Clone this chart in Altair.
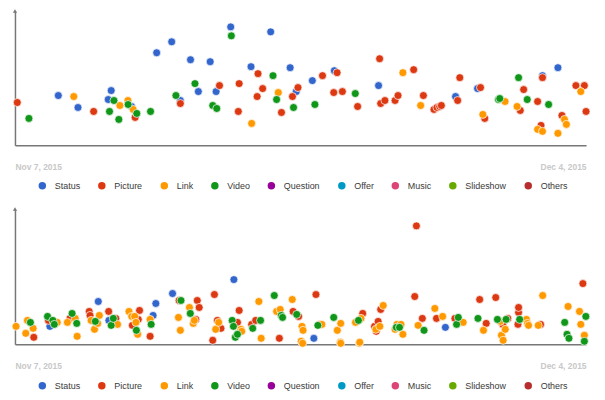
import altair as alt
import pandas as pd

# ---- categories / colours -------------------------------------------------
TYPES = ["Status", "Picture", "Link", "Video", "Question", "Offer", "Music", "Slideshow", "Others"]
COLORS = ["#3366cc", "#dc3912", "#ff9900", "#109618", "#990099", "#0099c6", "#dd4477", "#66aa00", "#b82e2e"]

START = "2015-11-07"
END = "2015-12-04"

# ---- upper chart: (days after Nov 7, value) --------------------------------
TOP_STATUS = [(2.05, 50), (2.98, 38), (4.41, 46), (4.55, 55), (5.51, 39), (6.70, 93), (7.41, 104), (7.82, 45),
              (8.30, 86), (8.67, 54), (9.23, 84), (9.51, 54), (10.20, 119), (11.16, 79), (12.09, 114), (13.01, 78),
              (13.30, 54), (14.06, 65), (15.10, 75), (17.19, 60), (20.83, 49), (21.87, 57), (24.94, 70), (25.67, 78)]
TOP_PICTURE = [(0.11, 43), (3.72, 34), (5.68, 28), (7.82, 42), (9.67, 60), (10.56, 34), (10.60, 62), (11.45, 49),
               (11.49, 72), (11.71, 57), (12.60, 33), (13.12, 49), (13.38, 58), (14.54, 70), (15.07, 53), (15.23, 73),
               (15.48, 54), (16.20, 39), (17.24, 87), (17.29, 42), (17.49, 45), (17.97, 45), (18.11, 50), (18.85, 76),
               (19.31, 50), (19.81, 36), (19.95, 38), (20.08, 39), (20.16, 40), (20.93, 45), (21.03, 68), (22.01, 58),
               (22.21, 27), (23.89, 35), (24.05, 56), (24.71, 44), (24.87, 20), (24.94, 68), (25.86, 30), (26.52, 60),
               (26.92, 60), (27.00, 34)]
TOP_LINK = [(2.78, 49), (4.96, 40), (5.34, 45), (5.59, 36), (11.19, 22), (12.45, 53), (18.34, 73), (19.18, 40),
            (22.12, 31), (23.17, 44), (23.74, 39), (24.71, 16), (24.94, 14), (25.67, 12), (25.98, 26), (26.07, 21),
            (26.75, 54)]
TOP_VIDEO = [(0.66, 27), (4.47, 34), (4.68, 45), (4.91, 26), (5.35, 41), (5.76, 32), (6.41, 34), (7.61, 50),
             (8.51, 62), (9.35, 40), (9.54, 37), (10.23, 110), (12.20, 70), (12.37, 46), (13.17, 38), (14.18, 41),
             (16.09, 52), (22.86, 46), (22.92, 47), (23.81, 68), (24.22, 46), (25.23, 41)]

# ---- lower chart ------------------------------------------------------------
BOT_STATUS = [(1.65, 18), (3.94, 43), (4.44, 24), (6.53, 29), (6.66, 41), (7.45, 51), (10.35, 65), (14.13, 6),
              (20.35, 17)]
BOT_PICTURE = [(0.89, 7), (1.58, 24), (2.60, 26), (3.51, 33), (3.55, 29), (4.43, 33), (4.77, 26), (5.55, 19),
               (5.83, 25), (5.89, 34), (6.39, 8), (7.76, 44), (8.55, 25), (8.62, 44), (8.71, 37), (9.35, 4),
               (9.43, 50), (9.57, 24), (9.74, 16), (10.52, 22), (10.60, 34), (11.19, 20), (11.38, 24), (12.50, 6),
               (13.15, 33), (13.41, 28), (14.23, 50), (14.41, 20), (16.44, 31), (17.00, 18), (17.08, 13), (17.17, 23),
               (17.29, 35), (18.90, 48), (18.98, 119), (19.26, 26), (19.93, 26), (20.80, 26), (21.97, 45), (22.28, 21),
               (22.73, 47), (23.06, 20), (23.30, 26), (23.78, 20), (23.81, 32), (23.81, 37), (24.85, 20), (26.85, 61)]
BOT_LINK = [(0.05, 18), (0.51, 11), (0.59, 24), (0.86, 16), (2.00, 22), (2.48, 22), (2.85, 26), (2.94, 8),
            (3.60, 24), (3.76, 15), (3.91, 21), (3.99, 29), (4.85, 20), (5.39, 33), (5.52, 28), (5.66, 28),
            (5.72, 22), (5.80, 10), (6.39, 25), (7.73, 27), (7.82, 14), (8.25, 37), (8.43, 21), (8.48, 24),
            (9.49, 15), (9.63, 22), (10.68, 15), (10.72, 13), (11.53, 43), (11.64, 6), (12.37, 33), (12.54, 35),
            (13.11, 45), (13.53, 3), (13.57, 18), (13.60, 1), (13.62, 14), (14.51, 20), (15.24, 14), (15.38, 2),
            (15.40, 1), (15.40, 21), (16.10, 22), (16.28, 1), (16.30, 2), (16.36, 26), (17.06, 15), (17.25, 18),
            (17.41, 39), (17.97, 15), (18.06, 20), (18.25, 20), (18.34, 10), (19.06, 19), (19.85, 36), (20.22, 28),
            (21.19, 22), (22.15, 14), (22.95, 23), (23.00, 9), (23.08, 4), (23.18, 15), (24.18, 25), (24.23, 21),
            (24.28, 19), (24.74, 19), (24.95, 49), (26.15, 38), (26.69, 33), (26.75, 20), (26.92, 9)]
BOT_VIDEO = [(0.73, 22), (1.54, 28), (1.79, 24), (1.86, 20), (2.70, 31), (2.92, 21), (3.80, 23), (4.55, 19),
             (4.65, 26), (5.74, 14), (6.44, 20), (7.85, 44), (8.29, 31), (10.27, 24), (10.33, 18), (10.42, 7),
             (10.52, 10), (11.24, 16), (11.61, 24), (12.26, 49), (12.59, 29), (12.65, 27), (13.32, 30), (14.32, 19),
             (15.07, 27), (16.24, 24), (18.03, 17), (18.18, 17), (19.34, 14), (20.88, 20), (20.96, 27), (21.89, 26),
             (22.81, 25), (23.22, 25), (23.86, 25), (25.99, 22), (26.10, 10), (26.19, 6), (26.92, 3), (26.99, 28)]

TOP_MAX = 135
BOT_MAX = 136


def frame(series):
    rows = []
    start = pd.Timestamp(START)
    for i, (name, pts) in enumerate(series):
        for d, v in pts:
            rows.append({"type": name, "order": i, "date": start + pd.Timedelta(days=d), "value": v})
    return pd.DataFrame(rows)


FONT = "Liberation Sans, Arial, sans-serif"
D0 = alt.DateTime(year=2015, month=11, date=7)
D1 = alt.DateTime(year=2015, month=12, date=4)


def panel(df, ymax, legend_y):
    x_scale = alt.Scale(domain=[D0, D1])
    y_scale = alt.Scale(domain=[0, ymax], nice=False, zero=True)
    x_axis = alt.Axis(values=[D0, D1], format="%b %-d, %Y", title=None, ticks=False, grid=False,
                      labelPadding=17, labelFontSize=8.5, labelFontWeight="bold", labelColor="#c8c8c8",
                      labelFont=FONT, labelFlush=True, domainColor="#777777", domainWidth=1.5)
    y_axis = alt.Axis(title=None, labels=False, ticks=False, grid=False,
                      domainColor="#777777", domainWidth=1.5)
    legend = alt.Legend(title=None, orient="none", legendX=23, legendY=legend_y, direction="horizontal",
                        columns=9, symbolType="circle", symbolSize=56, symbolStrokeWidth=0,
                        symbolOpacity=1, labelFontSize=9, labelFont=FONT, labelColor="#3a3a3a",
                        labelOffset=8, columnPadding=16.8, padding=0)
    pts = alt.Chart(df).mark_circle(size=64, opacity=1, stroke="white", strokeWidth=0.7).encode(
        x=alt.X("date:T", scale=x_scale, axis=x_axis),
        y=alt.Y("value:Q", scale=y_scale, axis=y_axis),
        color=alt.Color("type:N", scale=alt.Scale(domain=TYPES, range=COLORS), legend=legend),
        order=alt.Order("order:Q"),
    )
    arrow_df = pd.DataFrame({"date": [pd.Timestamp(START)], "value": [ymax]})
    arrow = alt.Chart(arrow_df).mark_point(shape="triangle-up", filled=True, size=18,
                                           color="#777777", opacity=1).encode(
        x=alt.X("date:T", scale=x_scale, axis=x_axis),
        y=alt.Y("value:Q", scale=y_scale, axis=y_axis),
    )
    return alt.layer(pts, arrow).properties(width=574, height=ymax)


top_df = frame([("Status", TOP_STATUS), ("Picture", TOP_PICTURE), ("Link", TOP_LINK), ("Video", TOP_VIDEO)])
bot_df = frame([("Status", BOT_STATUS), ("Picture", BOT_PICTURE), ("Link", BOT_LINK), ("Video", BOT_VIDEO)])

chart = alt.vconcat(
    panel(top_df, TOP_MAX, 171),
    panel(bot_df, BOT_MAX, 173),
    spacing=16,
).resolve_scale(color="independent").resolve_legend(color="independent").properties(
    padding={"left": 2, "top": 0, "right": 5, "bottom": 5}
).configure_view(stroke=None)

chart.save("out.html", embed_options={"renderer": "svg", "actions": False})
